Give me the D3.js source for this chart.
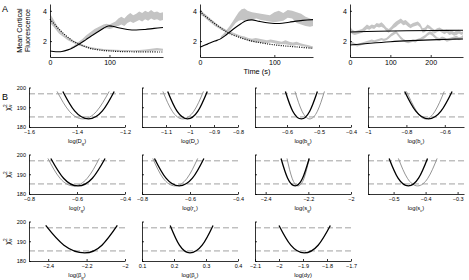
<!DOCTYPE html>
<html>
<head>
<meta charset="utf-8">
<script src="https://cdn.jsdelivr.net/npm/d3@7"></script>
<style>
body{margin:0;background:#fff}
svg text{font-family:"Liberation Sans",Arial,sans-serif}
</style>
</head>
<body>
<div class="chart"></div>
<script>
// ---- panel A data: [time, value] for models, [time, lo, hi] for data bands
const a1RiseModel=[[0,1.35],[10,1.3],[20,1.31],[30,1.42],[40,1.6],[50,1.82],[60,2.08],[70,2.35],[80,2.6],[90,2.85],[98,3.0],[105,2.98],[115,2.88],[130,2.77],[145,2.73],[160,2.77],[175,2.84],[190,2.9]]
const a1FallModel=[[0,3.45],[10,3.0],[20,2.6],[30,2.25],[40,1.98],[50,1.78],[60,1.62],[70,1.5],[85,1.4],[100,1.35],[120,1.31],[150,1.29],[190,1.28]]
const a1RiseData=[[35,1.45,1.6],[40,1.55,1.7],[45,1.65,1.85],[50,1.8,2.0],[55,1.95,2.15],[60,2.1,2.35],[65,2.25,2.5],[70,2.4,2.65],[75,2.5,2.8],[80,2.6,2.9],[85,2.7,3.0],[90,2.8,3.1],[95,2.85,3.15],[100,2.8,3.1],[105,2.85,3.2],[110,2.95,3.3],[115,3.0,3.5],[120,3.1,3.6],[125,3.0,3.5],[130,3.2,3.7],[135,3.3,3.85],[140,3.2,3.7],[145,3.3,3.8],[150,3.4,3.95],[155,3.3,3.85],[160,3.45,4.0],[165,3.35,3.9],[170,3.5,4.05],[175,3.4,3.9],[180,3.45,3.95],[185,3.35,3.85],[190,3.4,3.9]]
const a1FallData=[[0,3.2,3.8],[5,3.0,3.5],[10,2.75,3.15],[15,2.5,2.85],[20,2.35,2.6],[25,2.2,2.4],[30,2.05,2.25],[40,1.85,2.0],[50,1.7,1.85],[60,1.58,1.7],[70,1.48,1.6],[80,1.42,1.52],[90,1.38,1.48],[100,1.35,1.45],[110,1.33,1.43],[120,1.32,1.42],[130,1.33,1.42],[140,1.32,1.4],[150,1.32,1.42],[160,1.33,1.44],[170,1.35,1.5],[180,1.38,1.55],[190,1.36,1.5]]

const a2RiseModel=[[0,1.6],[10,1.8],[20,2.0],[27,2.13],[35,2.4],[45,2.8],[55,3.15],[62,3.35],[70,3.4],[80,3.3],[93,3.2],[107,3.16],[120,3.25],[138,3.37],[152,3.42]]
const a2FallModel=[[0,3.95],[7,3.65],[13,3.42],[20,3.15],[27,2.9],[33,2.7],[40,2.5],[50,2.3],[62,2.1],[75,1.95],[93,1.8],[110,1.7],[129,1.62],[152,1.52]]
const a2RiseData=[[28,2.15,2.3],[32,2.3,2.5],[36,2.5,2.75],[40,2.7,3.0],[44,2.95,3.3],[48,3.2,3.6],[52,3.35,3.9],[56,3.4,4.1],[60,3.35,4.15],[64,3.4,4.0],[70,3.45,3.9],[76,3.5,3.85],[82,3.4,3.8],[88,3.35,3.75],[94,3.3,3.7],[100,3.25,3.9],[106,3.3,4.0],[112,3.35,3.85],[118,3.55,4.05],[124,3.5,4.0],[130,3.2,3.9],[136,3.1,3.8],[142,3.0,3.6],[148,2.95,3.5],[152,3.0,3.4]]
const a2FallData=[[0,3.75,4.1],[5,3.6,3.85],[10,3.4,3.65],[15,3.2,3.45],[20,3.0,3.25],[25,2.85,3.05],[30,2.7,2.9],[35,2.6,2.75],[40,2.5,2.65],[45,2.4,2.55],[50,2.3,2.45],[55,2.2,2.35],[60,2.1,2.3],[65,2.0,2.2],[70,1.95,2.15],[75,1.9,2.2],[80,1.9,2.15],[85,1.85,2.1],[90,1.85,2.05],[95,1.9,2.1],[100,1.85,2.05],[105,1.8,2.0],[110,1.8,1.95],[115,1.8,2.05],[120,1.75,1.95],[125,1.7,1.9],[130,1.75,1.95],[135,1.7,1.85],[140,1.65,1.8],[145,1.6,1.75],[152,1.5,1.65]]

const a3UpperModel=[[0,2.6],[70,2.65],[140,2.68],[210,2.7],[280,2.72]]
const a3LowerModel=[[0,1.74],[50,1.86],[100,1.96],[150,2.03],[200,2.08],[250,2.12],[280,2.14]]
const a3UpperData=[[0,2.6,2.95],[6,2.45,2.75],[12,2.4,2.65],[18,2.45,2.7],[24,2.5,2.75],[30,2.55,2.8],[36,2.65,2.95],[42,2.8,3.1],[48,2.75,3.0],[54,2.85,3.1],[60,2.8,3.05],[66,2.95,3.2],[72,2.9,3.15],[78,2.95,3.25],[84,2.85,3.1],[90,2.65,2.9],[96,2.55,2.8],[102,2.7,2.95],[108,2.85,3.15],[114,2.95,3.3],[120,3.1,3.4],[126,3.2,3.5],[132,3.05,3.35],[138,3.1,3.4],[144,2.95,3.25],[150,2.85,3.1],[156,2.95,3.2],[162,3.0,3.25],[168,3.05,3.3],[174,2.9,3.15],[180,2.55,2.85],[186,2.6,2.9],[192,2.85,3.1],[198,2.8,3.0],[204,2.6,2.85],[210,2.5,2.75],[216,2.6,2.85],[222,2.65,2.9],[228,2.55,2.8],[234,2.45,2.7],[240,2.55,2.75],[246,2.4,2.65],[252,2.45,2.7],[258,2.35,2.6],[264,2.4,2.7],[270,2.5,2.75],[276,2.4,2.6],[280,2.45,2.65]]
const a3LowerData=[[0,1.85,2.05],[6,1.75,1.95],[12,1.7,1.85],[18,1.65,1.8],[24,1.7,1.85],[30,1.75,1.9],[36,1.8,1.95],[42,1.85,2.0],[48,1.9,2.05],[54,1.95,2.1],[60,1.9,2.05],[66,1.95,2.1],[72,2.0,2.15],[78,2.05,2.2],[84,2.0,2.15],[90,2.05,2.2],[96,2.15,2.35],[102,2.3,2.5],[108,2.4,2.6],[114,2.5,2.7],[120,2.3,2.5],[126,2.1,2.3],[132,2.0,2.15],[138,1.9,2.05],[144,1.85,2.0],[150,1.9,2.05],[156,1.95,2.1],[162,1.9,2.05],[168,2.0,2.15],[174,2.05,2.2],[180,2.1,2.3],[186,2.2,2.4],[192,2.35,2.55],[198,2.45,2.65],[204,2.35,2.6],[210,2.2,2.4],[216,2.05,2.25],[222,2.0,2.2],[228,2.1,2.3],[234,2.05,2.25],[240,1.95,2.15],[246,2.0,2.2],[252,2.05,2.25],[258,2.1,2.3],[264,2.15,2.35],[270,2.05,2.25],[276,2.1,2.3],[280,2.2,2.4]]

// ---- panel B data
const paramBase=["D","D","b","b","r","r","s","s","\u03b2","\u03b2","dy"]
const paramSub=["g","c","g","c","g","c","g","c","g","c",""]
const xDomains=[[-1.6,-1.2],[-1.2,-0.8],[-0.7,-0.4],[-1,-0.5],[-0.8,-0.4],[-0.8,-0.4],[-2.45,-2],[-0.58,-0.28],[-2.5,-2],[0.1,0.4],[-2.1,-1.7]]
const xTicks=[[-1.6,-1.4,-1.2],[-1.1,-1,-0.9,-0.8],[-0.6,-0.5,-0.4],[-1,-0.8,-0.6],[-0.8,-0.6,-0.4],[-0.8,-0.6,-0.4],[-2.4,-2.2,-2],[-0.5,-0.4,-0.3],[-2.4,-2.2,-2],[0.1,0.2,0.3,0.4],[-2.1,-2,-1.9,-1.8,-1.7]]
const chiTicks=[180,190,200]
const chiLevels=[185.1,196.8]
const profileChi=[198,188,184.1,188,198]
const blackX=[
	[-1.459,-1.409,-1.352,-1.295,-1.245],
	[-1.093,-1.054,-1.010,-0.967,-0.928],
	[-0.605,-0.582,-0.555,-0.529,-0.505],
	[-0.809,-0.751,-0.685,-0.620,-0.562],
	[-0.709,-0.656,-0.596,-0.536,-0.483],
	[-0.748,-0.700,-0.645,-0.590,-0.542],
	[-2.328,-2.297,-2.262,-2.227,-2.196],
	[-0.514,-0.486,-0.454,-0.422,-0.394],
	[-2.413,-2.318,-2.210,-2.120,-2.040],
	[0.188,0.217,0.250,0.288,0.322],
	[-2.000,-1.951,-1.895,-1.837,-1.786]]
const grayX=[
	[-1.483,-1.432,-1.375,-1.318,-1.266],
	[-1.113,-1.074,-1.030,-0.984,-0.944],
	[-0.575,-0.553,-0.529,-0.505,-0.483],
	[-0.800,-0.747,-0.700,-0.651,-0.603],
	[-0.721,-0.671,-0.614,-0.557,-0.507],
	[-0.755,-0.712,-0.662,-0.612,-0.568],
	[-2.300,-2.276,-2.248,-2.220,-2.196],
	[-0.485,-0.457,-0.425,-0.393,-0.364],
	null,null,null]

const fmt=d3.format('~g')

const svg=d3.select('.chart').append('svg')
		.attr('width',469)
		.attr('height',280)

function styleAxis(g,size){
	g.attr('font-family',null).attr('font-size',size)
	g.select('.domain').attr('stroke','#000').attr('stroke-width',0.8)
	g.selectAll('.tick line').attr('stroke','#000').attr('stroke-width',0.8)
	g.selectAll('.tick text').attr('fill','#000')
}

// ---------- A ----------
function timePanel(left,tMax,tTicks,bands,solids,dots){
	const x=d3.scaleLinear().domain([0,tMax]).range([left,left+113])
	const y=d3.scaleLinear().domain([0.95,4.45]).range([57,4])
	const g=svg.append('g')
	const area=d3.area().x(d=>x(d[0])).y0(d=>y(d[1])).y1(d=>y(d[2]))
	const line=d3.line().x(d=>x(d[0])).y(d=>y(d[1])).curve(d3.curveCatmullRom)
	bands.forEach(b=>{
		g.append('path').datum(b).attr('fill','#c4c4c4').attr('d',area)
	})
	solids.forEach(s=>{
		g.append('path').datum(s).attr('fill','none').attr('stroke','#000')
			.attr('stroke-width',1.1).attr('d',line)
	})
	dots.forEach(s=>{
		g.append('path').datum(s).attr('fill','none').attr('stroke','#000')
			.attr('stroke-width',1.2).attr('stroke-dasharray','1,1.3').attr('d',line)
	})
	g.append('g').attr('transform','translate(0,57)')
		.call(d3.axisBottom(x).tickValues(tTicks).tickFormat(fmt).tickSize(-2).tickSizeOuter(0).tickPadding(3))
		.call(a=>styleAxis(a,7))
	g.append('g').attr('transform',`translate(${left},0)`)
		.call(d3.axisLeft(y).tickValues([2,4]).tickFormat(fmt).tickSize(-2).tickSizeOuter(0).tickPadding(3))
		.call(a=>styleAxis(a,7))
}

timePanel(50,190,[0,100],[a1FallData,a1RiseData],[a1RiseModel],[a1FallModel])
timePanel(200,152,[0,100],[a2FallData,a2RiseData],[a2RiseModel],[a2FallModel])
timePanel(350,280,[0,100,200],[a3UpperData,a3LowerData],[a3UpperModel,a3LowerModel],[])

svg.append('text').attr('x',2).attr('y',12).attr('font-size',9).text('A')
svg.append('text').attr('x',2).attr('y',100).attr('font-size',9).text('B')

const ylab=svg.append('text').attr('transform','translate(26,30.5) rotate(-90)')
	.attr('text-anchor','middle').attr('font-size',7.2)
ylab.append('tspan').attr('x',0).attr('dy','-0.55em').text('Mean Cortical')
ylab.append('tspan').attr('x',0).attr('dy','1.05em').text('Fluorescence')

svg.append('text').attr('x',257).attr('y',74).attr('text-anchor','middle')
	.attr('font-size',7.4).text('Time (s)')

// ---------- B ----------
const chiY=(top)=>d3.scaleLinear().domain([180,200]).range([top+39.5,top])

paramBase.forEach((p,i)=>{
	const col=i%4, row=Math.floor(i/4)
	const left=29+col*113, top=87.5+row*67, w=96
	const x=d3.scaleLinear().domain(xDomains[i]).range([left,left+w])
	const y=chiY(top)
	const g=svg.append('g')

	chiLevels.forEach(v=>{
		g.append('line').attr('x1',left).attr('x2',left+w)
			.attr('y1',y(v)).attr('y2',y(v))
			.attr('stroke','#8a8a8a').attr('stroke-width',0.8)
			.attr('stroke-dasharray','6,3')
	})
	const line=d3.line().x(d=>x(d[0])).y(d=>y(d[1])).curve(d3.curveNatural)
	if(grayX[i]){
		g.append('path').datum(grayX[i].map((v,k)=>[v,profileChi[k]]))
			.attr('fill','none').attr('stroke','#959595').attr('stroke-width',1).attr('d',line)
	}
	g.append('path').datum(blackX[i].map((v,k)=>[v,profileChi[k]]))
		.attr('fill','none').attr('stroke','#000').attr('stroke-width',1.3).attr('d',line)

	g.append('g').attr('transform',`translate(0,${top+39.5})`)
		.call(d3.axisBottom(x).tickValues(xTicks[i]).tickFormat(fmt).tickSize(-2).tickSizeOuter(0).tickPadding(3))
		.call(a=>styleAxis(a,5.5))
	const ya=d3.axisLeft(y).tickValues(chiTicks).tickFormat(col>0?'':fmt).tickSize(-2).tickSizeOuter(0).tickPadding(3)
	g.append('g').attr('transform',`translate(${left},0)`)
		.call(ya).call(a=>styleAxis(a,5.5))

	const lab=g.append('text').attr('x',left+w/2).attr('y',top+55.5)
		.attr('text-anchor','middle').attr('font-size',5.8)
	lab.append('tspan').text('log('+p)
	if(paramSub[i]) lab.append('tspan').attr('font-size',4.2).attr('dy',1.5).text(paramSub[i])
	lab.append('tspan').attr('dy',paramSub[i]?-1.5:0).text(')')

	if(col==0){
		const yl=g.append('text').attr('transform',`translate(10,${top+20}) rotate(-90)`)
			.attr('text-anchor','middle').attr('font-size',7)
		yl.append('tspan').text('\u03c7')
		yl.append('tspan').attr('font-size',4.8).attr('dy',-3).text('2')
		yl.append('tspan').attr('font-size',4.8).attr('dx',-2.6).attr('dy',5.2).text('\u03bd')
	}
})
</script>
</body>
</html>
